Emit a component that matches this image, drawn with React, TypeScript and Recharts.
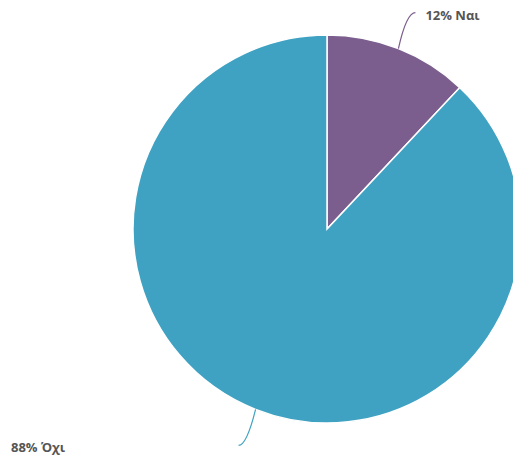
import React from "react";
import { PieChart, Pie, Cell } from "recharts";

const categories = ["Ναι", "Όχι"];
const values = [12, 88];
const colors = ["#7B5E8E", "#3FA2C2"];

const data = categories.map((name, i) => ({ name, value: values[i] }));

const RAD = Math.PI / 180;

const renderLabel = (props: any) => {
  const { cx, cy, midAngle, outerRadius, index, name, value } = props;
  const sin = Math.sin(-midAngle * RAD);
  const cos = Math.cos(-midAngle * RAD);
  const sx = cx + outerRadius * cos;
  const sy = cy + outerRadius * sin;
  const right = cos >= 0;
  const ex = sx + (right ? 17 : -17);
  const ey = sy + (sin < 0 ? -36 : 36);
  const qx = sx + (right ? 8 : -9);
  const qy = ey;
  const path = `M${sx},${sy} Q${qx},${qy} ${ex},${ey}`;
  const tx = right ? ex + 10 : 11;
  const ty = ey + 3;
  return (
    <g key={`l-${index}`}>
      <path d={path} stroke={colors[index]} fill="none" strokeWidth={1.2} />
      <text
        x={tx}
        y={ty}
        dy={4}
        textAnchor="start"
        fill="#555555"
        fontSize={13}
        fontWeight="bold"
        fontFamily="'Open Sans', sans-serif"
      >
        {`${value}% ${name}`}
      </text>
    </g>
  );
};

export default function App() {
  return (
    <div style={{ position: "absolute", left: 0, top: 0, width: 513, height: 462, background: "#fff" }}>
      <PieChart width={513} height={462} margin={{ top: 0, right: 0, bottom: 0, left: 0 }}>
        <Pie
          data={data}
          dataKey="value"
          nameKey="name"
          cx={327}
          cy={229}
          outerRadius={194}
          startAngle={90}
          endAngle={-270}
          stroke="#ffffff"
          strokeWidth={1.5}
          isAnimationActive={false}
          labelLine={false}
          label={renderLabel}
        >
          {data.map((d, i) => (
            <Cell key={d.name} fill={colors[i]} />
          ))}
        </Pie>
      </PieChart>
    </div>
  );
}
